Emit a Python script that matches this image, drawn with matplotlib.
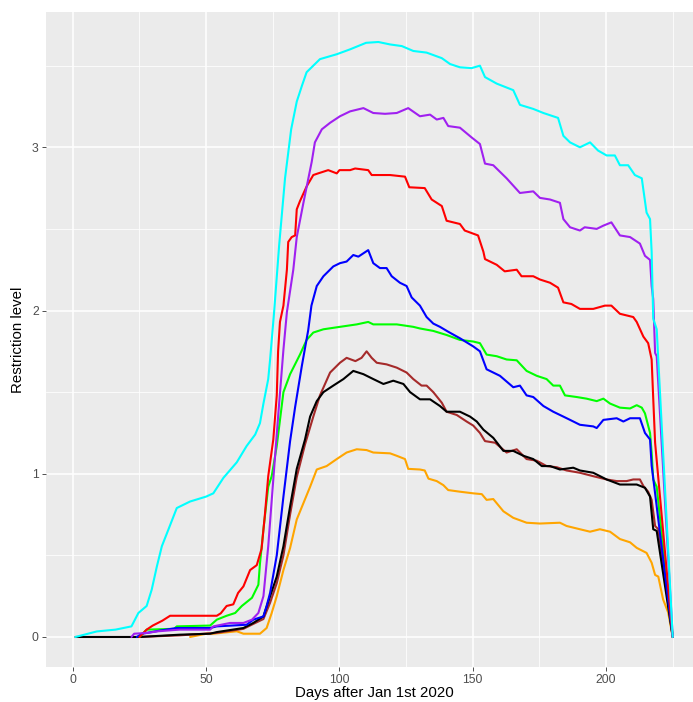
import matplotlib
matplotlib.use("Agg")
import matplotlib.pyplot as plt

plt.rcParams["font.family"] = ["Liberation Sans", "DejaVu Sans"]

# (day, restriction level)
cyan_pts = [(1, 0.0), (9, 0.034), (16, 0.045), (22, 0.065), (24.6, 0.147), (27.7, 0.19),
            (29.6, 0.29), (31.5, 0.43), (33.4, 0.556), (35.9, 0.66), (39, 0.79), (44, 0.83),
            (50, 0.86), (52.7, 0.88), (56.5, 0.975), (61.5, 1.07), (65.2, 1.17), (68.4, 1.24),
            (70.2, 1.31), (71.5, 1.43), (73.3, 1.58), (74, 1.70), (75.5, 1.99), (77.4, 2.40),
            (79.6, 2.81), (81.9, 3.11), (84, 3.28), (86, 3.38), (87.7, 3.46), (92.7, 3.54),
            (99, 3.57), (104, 3.60), (110, 3.64), (114.6, 3.645), (119, 3.63), (123.4, 3.62),
            (127.7, 3.59), (132.7, 3.58), (138.4, 3.546), (141.5, 3.51), (145.2, 3.49),
            (149.6, 3.485), (152.7, 3.50), (154.6, 3.43), (159, 3.39), (165.2, 3.35),
            (167.7, 3.26), (172.7, 3.235), (176.5, 3.21), (182, 3.18), (184, 3.07), (186.5, 3.03),
            (190.2, 3.00), (194, 3.03), (197, 2.98), (200.2, 2.95), (203.3, 2.95), (205.2, 2.89),
            (208.3, 2.89), (210.8, 2.83), (213.4, 2.81), (215.2, 2.60), (216.5, 2.56),
            (217.1, 2.36), (217.7, 1.95), (219, 1.885), (225, 0.0)]

purple_pts = [(22, 0.0), (23, 0.02), (28, 0.025), (32, 0.035), (40, 0.045), (51.5, 0.045),
              (52.7, 0.065), (59, 0.086), (64, 0.086), (67.2, 0.106), (69.6, 0.147), (71.5, 0.25),
              (73.3, 0.556), (75.2, 0.965), (77.1, 1.37), (79, 1.76), (80.3, 1.99), (82.7, 2.25),
              (84, 2.45), (86.5, 2.66), (89.6, 2.91), (90.8, 3.03), (93.4, 3.11), (96.5, 3.15),
              (100.2, 3.19), (104, 3.22), (109, 3.24), (112.7, 3.21), (117.1, 3.205),
              (121.5, 3.21), (125.8, 3.24), (130.2, 3.19), (134, 3.20), (136.5, 3.17), (139, 3.18),
              (140.8, 3.13), (145.2, 3.12), (149.6, 3.06), (152.7, 3.02), (154.6, 2.90),
              (157.7, 2.89), (160.2, 2.85), (162.7, 2.81), (167.7, 2.72), (172.7, 2.73),
              (175.2, 2.69), (179, 2.68), (182.7, 2.66), (184, 2.56), (186.5, 2.51), (190.2, 2.49),
              (192, 2.51), (196.5, 2.50), (199, 2.52), (202, 2.54), (205.2, 2.46), (209, 2.45),
              (212.7, 2.41), (214.6, 2.335), (216.5, 2.31), (217.1, 2.15), (217.7, 2.07),
              (218.4, 1.74), (219, 1.72), (225, 0.0)]

red_pts = [(25, 0.0), (27.7, 0.045), (30, 0.07), (33.6, 0.10), (36.5, 0.13), (54, 0.13),
           (55.5, 0.145), (57.7, 0.19), (60.2, 0.20), (62, 0.27), (64, 0.31), (66.5, 0.41),
           (69, 0.44), (70.8, 0.54), (72, 0.74), (73.3, 0.985), (75.2, 1.21), (76.5, 1.48),
           (77, 1.75), (77.7, 1.93), (79, 2.03), (80.3, 2.25), (80.8, 2.42), (82.1, 2.45),
           (83.4, 2.46), (84, 2.62), (85.2, 2.67), (87.7, 2.76), (90.2, 2.83), (92, 2.84),
           (95.8, 2.86), (99, 2.84), (100, 2.86), (104, 2.86), (105.9, 2.87), (110.8, 2.86),
           (112.1, 2.83), (119, 2.83), (124.6, 2.82), (126.2, 2.755), (132, 2.75), (134.6, 2.68),
           (138.4, 2.64), (140.2, 2.55), (145.2, 2.53), (147, 2.49), (152, 2.46), (154, 2.36),
           (154.6, 2.315), (159, 2.28), (162, 2.24), (166.5, 2.25), (168.3, 2.21), (172.7, 2.21),
           (175.2, 2.19), (179, 2.17), (182, 2.14), (184, 2.05), (187, 2.04), (190.2, 2.01),
           (195.2, 2.01), (199.6, 2.03), (202, 2.03), (205.2, 1.98), (210.2, 1.96), (211.5, 1.93),
           (214, 1.84), (215.8, 1.80), (217.1, 1.70), (217.7, 1.46), (218.4, 1.19), (225, 0.0)]

blue_pts = [(24, 0.0), (26, 0.02), (33, 0.04), (39, 0.055), (51.5, 0.055), (54, 0.065),
            (65.2, 0.075), (67.7, 0.106), (71.5, 0.126), (72.7, 0.19), (74, 0.27), (76.5, 0.50),
            (79, 0.86), (81.5, 1.20), (83.4, 1.41), (85.9, 1.66), (88.3, 1.88), (89.5, 2.03),
            (91.5, 2.15), (94, 2.21), (97.7, 2.27), (100.2, 2.29), (102.7, 2.30), (105.2, 2.34),
            (107.1, 2.33), (110.8, 2.37), (112.7, 2.29), (115.2, 2.26), (117.7, 2.26),
            (119.6, 2.21), (122.7, 2.17), (125.2, 2.15), (127.1, 2.08), (130.2, 2.03),
            (132.7, 1.96), (135.2, 1.92), (137.7, 1.90), (140.8, 1.87), (145.2, 1.83),
            (150.2, 1.78), (152.7, 1.75), (155.2, 1.64), (160.2, 1.60), (165.2, 1.53),
            (167.7, 1.54), (170.2, 1.48), (172.7, 1.47), (176.5, 1.415), (180.2, 1.38), (184, 1.35),
            (186.5, 1.33), (190.2, 1.30), (195.2, 1.29), (196.5, 1.28), (199, 1.33), (204, 1.34),
            (206.5, 1.32), (209, 1.34), (212.7, 1.34), (214.6, 1.25), (216.5, 1.21), (217.1, 1.05),
            (218.4, 0.88), (225, 0.0)]

green_pts = [(25, 0.0), (27.7, 0.045), (38, 0.05), (39, 0.065), (51.5, 0.07), (54, 0.106),
             (57.7, 0.13), (60.9, 0.147), (63.4, 0.19), (67.2, 0.24), (69.6, 0.32), (70.2, 0.45),
             (71.5, 0.66), (73.3, 0.92), (74.6, 0.985), (76.5, 1.17), (79, 1.50), (81.5, 1.61),
             (85.2, 1.73), (87.7, 1.82), (90.2, 1.865), (94, 1.885), (100.2, 1.90), (106.5, 1.915),
             (110.8, 1.93), (112.7, 1.915), (121.5, 1.915), (127.7, 1.90), (130.2, 1.89),
             (135.2, 1.875), (140.2, 1.85), (145.2, 1.82), (150.2, 1.81), (152.7, 1.80),
             (155.2, 1.73), (159, 1.72), (162.7, 1.70), (166.5, 1.695), (170.2, 1.63), (174, 1.60),
             (177.7, 1.58), (180.2, 1.54), (182.7, 1.54), (184.6, 1.48), (189, 1.47), (192.7, 1.46),
             (196.5, 1.445), (199, 1.46), (201.5, 1.43), (205.2, 1.405), (209, 1.40),
             (211.5, 1.42), (213.4, 1.405), (214.6, 1.37), (216.5, 1.25), (217.1, 1.13),
             (217.7, 0.965), (219, 0.92), (225, 0.0)]

brown_pts = [(25, 0.0), (40, 0.01), (54, 0.025), (64, 0.05), (67.7, 0.08), (71.5, 0.11),
             (74, 0.21), (76.5, 0.33), (79, 0.50), (81.5, 0.75), (84, 0.98), (87.1, 1.18),
             (90.2, 1.35), (92.7, 1.48), (96.5, 1.62), (100.2, 1.68), (102.7, 1.71), (106, 1.69),
             (108.3, 1.71), (110.2, 1.75), (112.1, 1.71), (114, 1.68), (117.7, 1.67), (121.5, 1.65),
             (125.2, 1.62), (127.7, 1.58), (130.8, 1.54), (132.7, 1.54), (135.2, 1.50),
             (138.4, 1.435), (140.2, 1.38), (144, 1.36), (147.7, 1.32), (150.2, 1.295),
             (152.7, 1.25), (154.6, 1.20), (158.4, 1.19), (162.7, 1.13), (166.5, 1.15),
             (170.2, 1.09), (174, 1.08), (177.7, 1.047), (181.5, 1.04), (185.2, 1.02),
             (190.2, 1.006), (195.2, 0.985), (200.2, 0.965), (204, 0.955), (207.7, 0.955),
             (210.2, 0.965), (212.7, 0.965), (214, 0.925), (215.8, 0.89), (217.1, 0.84),
             (218.4, 0.68), (219.6, 0.66), (225, 0.0)]

black_pts = [(1, 0.0), (25, 0.0), (40, 0.014), (51.5, 0.02), (54, 0.03), (64, 0.055),
             (67.7, 0.086), (71.5, 0.126), (74, 0.25), (76.5, 0.37), (79, 0.556), (81.5, 0.80),
             (84, 1.03), (87.1, 1.21), (89, 1.35), (91.5, 1.445), (94, 1.50), (97.7, 1.54),
             (101.5, 1.58), (105.2, 1.63), (109, 1.61), (112.7, 1.58), (116.5, 1.55),
             (120.2, 1.57), (124, 1.55), (126.5, 1.50), (130.2, 1.456), (134, 1.456),
             (137.7, 1.415), (140.2, 1.38), (145.2, 1.38), (149, 1.35), (151.5, 1.32), (154, 1.27),
             (157.7, 1.22), (161.5, 1.14), (165.2, 1.14), (169, 1.11), (172.7, 1.09),
             (175.9, 1.047), (179, 1.047), (182.7, 1.026), (187.7, 1.037), (190.2, 1.02),
             (195.2, 1.006), (200.2, 0.965), (205.2, 0.934), (211.5, 0.934), (214.6, 0.914),
             (216.5, 0.86), (217.7, 0.66), (219, 0.65), (225, 0.0)]

orange_pts = [(44, 0.0), (50, 0.02), (52.7, 0.02), (61.5, 0.035), (64, 0.02), (70.2, 0.02),
              (72.7, 0.055), (74.6, 0.147), (76.5, 0.25), (79, 0.41), (81.5, 0.545), (84, 0.72),
              (86.5, 0.82), (89, 0.92), (91.5, 1.026), (95.2, 1.047), (99, 1.09), (102.7, 1.13),
              (106.5, 1.15), (110.2, 1.145), (112.7, 1.13), (119, 1.125), (121.5, 1.11),
              (124.6, 1.09), (125.8, 1.03), (130.2, 1.026), (132, 1.02), (133.4, 0.97),
              (136.5, 0.955), (139, 0.93), (140.8, 0.90), (145.2, 0.89), (150.2, 0.88),
              (153.4, 0.875), (155.2, 0.84), (157.7, 0.845), (161.5, 0.77), (165.2, 0.73),
              (170.2, 0.70), (175.2, 0.695), (182.7, 0.70), (185.2, 0.68), (190.2, 0.66),
              (194, 0.645), (197.7, 0.66), (201.5, 0.645), (205.2, 0.60), (209, 0.58),
              (211.5, 0.546), (215.2, 0.515), (217.1, 0.455), (218.4, 0.38), (219.6, 0.37),
              (221.4, 0.23), (223.3, 0.15), (225, 0.0)]

# drawing order, bottom to top
series = [
    (orange_pts, "#FFA500"),
    (brown_pts, "#A52A2A"),
    (black_pts, "#000000"),
    (green_pts, "#00FF00"),
    (blue_pts, "#0000FF"),
    (red_pts, "#FF0000"),
    (purple_pts, "#A020F0"),
    (cyan_pts, "#00FFFF"),
]

fig = plt.figure(figsize=(6.93, 7.02), dpi=100)
# panel runs past the right edge, as in the (cropped) reference
ax = fig.add_axes([0.0658, 0.0503, 0.948, 0.9322])
ax.set_facecolor("#EBEBEB")

for pts, col in series:
    days = [p[0] for p in pts]
    vals = [p[1] for p in pts]
    ax.plot(days, vals, color=col, lw=1.5, solid_joinstyle="round", solid_capstyle="round")

ax.set_xlim(-10.2, 236.2)
ax.set_ylim(-0.182, 3.827)
ax.set_xticks([0, 50, 100, 150, 200])
ax.set_xticks([25, 75, 125, 175, 225], minor=True)
ax.set_yticks([0, 1, 2, 3])
ax.set_yticks([0.5, 1.5, 2.5, 3.5], minor=True)

ax.grid(which="major", color="white", lw=1.1)
ax.grid(which="minor", color="white", lw=0.55)
ax.set_axisbelow(True)
for s in ax.spines.values():
    s.set_visible(False)

ax.tick_params(which="major", length=2.75, width=0.6, color="#333333",
               labelcolor="#4D4D4D", labelsize=8.8, pad=2.2)
ax.tick_params(which="minor", length=0)

ax.set_xlabel("Days after Jan 1st 2020", fontsize=10.8, color="black", labelpad=0.5)
ax.set_ylabel("Restriction level", fontsize=10.8, color="black", labelpad=5)

fig.savefig("out.png", dpi=100)
